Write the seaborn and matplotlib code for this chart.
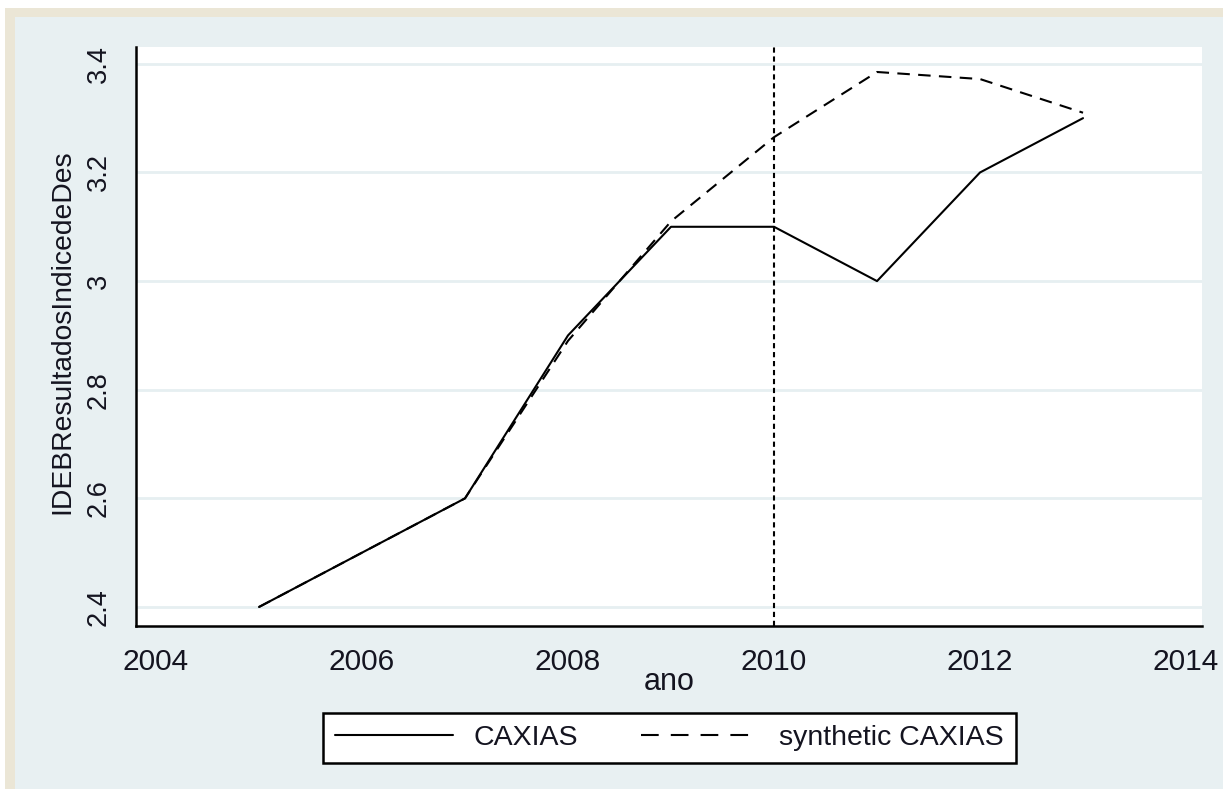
import numpy as np
import pandas as pd
import seaborn as sns
import matplotlib
matplotlib.use("Agg")
import matplotlib.pyplot as plt
from matplotlib.patches import Rectangle

# --- data -------------------------------------------------------------
years = [2005, 2006, 2007, 2008, 2009, 2010, 2011, 2012, 2013]
caxias = [2.40, 2.50, 2.60, 2.90, 3.10, 3.10, 3.00, 3.20, 3.30]
synthetic_caxias = [2.40, 2.50, 2.60, 2.89, 3.11, 3.265, 3.385, 3.372, 3.31]
series_names = ["CAXIAS", "synthetic CAXIAS"]
x_ticks = [2004, 2006, 2008, 2010, 2012, 2014]
y_ticks = [2.4, 2.6, 2.8, 3.0, 3.2, 3.4]
y_tick_labels = ["2.4", "2.6", "2.8", "3", "3.2", "3.4"]
treatment_year = 2010

df = pd.DataFrame({
    "ano": years * 2,
    "value": caxias + synthetic_caxias,
    "series": [series_names[0]] * len(years) + [series_names[1]] * len(years),
})

# --- style ------------------------------------------------------------
sns.set_theme(style="white")
plt.rcParams["font.family"] = ["Liberation Sans", "DejaVu Sans"]
TEXT = "#141420"
PANEL = "#e8f0f2"
FRAME = "#ebe6d6"
GRID = "#e6eff1"
LW = 1.5
DASH_LINE = (6, 4)
DASH_LEGEND = (8.5, 5.8)

W, H = 1223, 789
fig = plt.figure(figsize=(W / 100, H / 100), dpi=100, facecolor="white")

# outer frame and light panel behind the graph
fig.patches.append(Rectangle((5 / W, 0), 1 - 5 / W, 1 - 8 / H,
                             transform=fig.transFigure, facecolor=FRAME,
                             edgecolor="none", zorder=-2))
fig.patches.append(Rectangle((15 / W, 0), 1 - 15 / W, 1 - 17 / H,
                             transform=fig.transFigure, facecolor=PANEL,
                             edgecolor="none", zorder=-1))

ax_l, ax_r, ax_t, ax_b = 136, 1202, 47, 626
ax = fig.add_axes([ax_l / W, 1 - ax_b / H, (ax_r - ax_l) / W, (ax_b - ax_t) / H])
ax.set_facecolor("white")

sns.lineplot(data=df, x="ano", y="value", hue="series", style="series",
             palette={series_names[0]: "black", series_names[1]: "black"},
             dashes={series_names[0]: "", series_names[1]: DASH_LINE},
             linewidth=LW, ax=ax, legend=False)

ax.axvline(treatment_year, color="black", linestyle=(0, (2.5, 1.8)), linewidth=LW)

ax.set_xlim(2003.806, 2014.155)
ax.set_ylim(2.365, 3.431)
ax.set_xticks(x_ticks)
ax.set_yticks(y_ticks)
ax.set_yticklabels(y_tick_labels, rotation=90, va="center")

for y in y_ticks:
    ax.axhline(y, color=GRID, linewidth=2, zorder=0)

for side in ["top", "right"]:
    ax.spines[side].set_visible(False)
for side in ["left", "bottom"]:
    ax.spines[side].set_color("black")
    ax.spines[side].set_linewidth(1.8)

ax.tick_params(axis="both", direction="out", length=7.5, width=1.5,
               colors="black", labelcolor=TEXT)
ax.tick_params(axis="y", pad=10, labelsize=19.5)
ax.tick_params(axis="x", pad=8, labelsize=21.5)

ax.set_xlabel("ano", fontsize=22, color=TEXT, va="center")
ax.xaxis.set_label_coords(0.5, -(682 - ax_b) / (ax_b - ax_t))
ax.set_ylabel("IDEBResultadosIndicedeDes", fontsize=20.3, color=TEXT, va="center")
ax.yaxis.set_label_coords(-(ax_l - 62) / (ax_r - ax_l), 1 - (332 - ax_t) / (ax_b - ax_t))

# legend below the graph
handles = [
    plt.Line2D([], [], color="black", linewidth=LW),
    plt.Line2D([], [], color="black", linewidth=LW, dashes=DASH_LEGEND),
]
leg = fig.legend(handles, series_names, loc="center", ncol=2,
                 bbox_to_anchor=(669.5 / W, 1 - 738 / H),
                 fontsize=20.5, frameon=True, fancybox=False, shadow=False,
                 handlelength=4.15, handletextpad=0.72, columnspacing=2.2,
                 borderpad=0.42, borderaxespad=0)
leg.get_frame().set_edgecolor("black")
leg.get_frame().set_linewidth(1.8)
leg.get_frame().set_facecolor("white")
leg.get_frame().set_alpha(1)
for t in leg.get_texts():
    t.set_color(TEXT)

fig.savefig("out.png", dpi=100, facecolor=fig.get_facecolor())
